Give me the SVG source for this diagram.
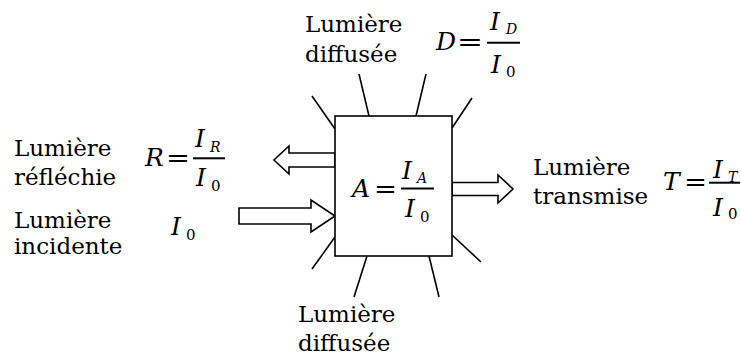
<svg xmlns="http://www.w3.org/2000/svg" width="741" height="355" viewBox="0 0 741 355">
<style>
.t{font-family:"DejaVu Serif","Liberation Serif",serif;font-size:23px;fill:#000}
.m{font-family:"DejaVu Serif","Liberation Serif",serif;font-size:25px;font-style:italic;fill:#000}
.s{font-family:"DejaVu Serif","Liberation Serif",serif;font-size:14px;font-style:italic;fill:#000}
.n{font-family:"DejaVu Serif","Liberation Serif",serif;font-size:15px;fill:#000}
.e{font-family:"DejaVu Serif","Liberation Serif",serif;font-size:25px;fill:#000}
.ln{stroke:#000;stroke-width:1.6;fill:none}
.ar{stroke:#000;stroke-width:1.6;fill:#fff;stroke-linejoin:miter}
.bar{stroke:#000;stroke-width:2}
</style>
<rect width="741" height="355" fill="#fff"/>
<g id="connectors">
<polygon class="ar" points="335,153 289,153 289,146 274,160 289,174 289,167 335,167"/>
<polygon class="ar" points="239,208 311,208 311,200 335,216 311,232 311,224 239,224"/>
<polygon class="ar" points="452,182.5 498,182.5 498,175 513,189 498,203 498,195.5 452,195.5"/>
<line class="ln" x1="312" y1="96" x2="335" y2="129"/>
<line class="ln" x1="359" y1="74" x2="369" y2="116"/>
<line class="ln" x1="426" y1="74" x2="416" y2="116"/>
<line class="ln" x1="472" y1="98" x2="452" y2="128"/>
<line class="ln" x1="335" y1="237" x2="312" y2="269"/>
<line class="ln" x1="367" y1="256" x2="354" y2="297"/>
<line class="ln" x1="429" y1="256" x2="439" y2="297"/>
<line class="ln" x1="452" y1="235" x2="481" y2="262"/>
</g>
<g id="sample">
<rect x="335" y="116" width="117" height="140" fill="#fff" stroke="#000" stroke-width="1.6"/>
<text class="m" x="352" y="197">A</text>
<text class="e" x="374" y="197" textLength="23" lengthAdjust="spacingAndGlyphs">=</text>
<line class="bar" x1="401" y1="188.5" x2="434" y2="188.5"/>
<text class="m" x="402" y="179">I</text>
<text class="s" x="417" y="183">A</text>
<text class="m" x="405" y="217">I</text>
<text class="n" x="420" y="222">0</text>
</g>
<g id="diffuse-top">
<text class="t" x="305" y="32">Lumière</text>
<text class="t" x="305" y="62">diffusée</text>
<text class="m" x="436" y="50">D</text>
<text class="e" x="457" y="50" textLength="26" lengthAdjust="spacingAndGlyphs">=</text>
<line class="bar" x1="487" y1="42.7" x2="520" y2="42.7"/>
<text class="m" x="490" y="30">I</text>
<text class="s" x="506" y="34">D</text>
<text class="m" x="491" y="73">I</text>
<text class="n" x="506" y="77">0</text>
</g>
<g id="reflected">
<text class="t" x="14" y="156">Lumière</text>
<text class="t" x="14" y="185">réfléchie</text>
<text class="m" x="145" y="166">R</text>
<text class="e" x="166" y="166" textLength="24" lengthAdjust="spacingAndGlyphs">=</text>
<line class="bar" x1="193" y1="158.3" x2="225" y2="158.3"/>
<text class="m" x="195" y="147">I</text>
<text class="s" x="210" y="152">R</text>
<text class="m" x="196" y="186">I</text>
<text class="n" x="211" y="191">0</text>
</g>
<g id="incident">
<text class="t" x="14" y="228">Lumière</text>
<text class="t" x="14" y="254">incidente</text>
<text class="m" x="171" y="235">I</text>
<text class="n" x="186" y="240">0</text>
</g>
<g id="transmitted">
<text class="t" x="533" y="175">Lumière</text>
<text class="t" x="533" y="204">transmise</text>
<text class="m" x="663" y="190">T</text>
<text class="e" x="684" y="190" textLength="23" lengthAdjust="spacingAndGlyphs">=</text>
<line class="bar" x1="709" y1="182.7" x2="740" y2="182.7"/>
<text class="m" x="713" y="178">I</text>
<text class="s" x="728" y="182">T</text>
<text class="m" x="713" y="216">I</text>
<text class="n" x="728" y="219">0</text>
</g>
<g id="diffuse-bottom">
<text class="t" x="298" y="322">Lumière</text>
<text class="t" x="298" y="351">diffusée</text>
</g>
</svg>
